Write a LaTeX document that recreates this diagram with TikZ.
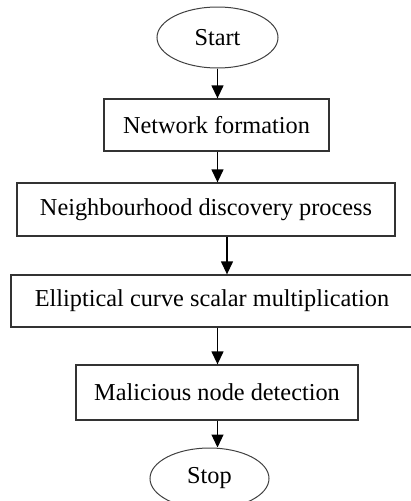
\documentclass[tikz,border=0pt]{standalone}
\usepackage{fontspec}
\setmainfont{Liberation Serif}
\usetikzlibrary{shapes.geometric,arrows.meta}

\tikzset{
  terminal/.style={ellipse, draw=black!75, line width=1pt, inner sep=0pt,
    font=\fontsize{24.3}{28}\selectfont},
  stepbox/.style={rectangle, draw=black!80, line width=1.3pt, inner sep=0pt,
    font=\fontsize{24.3}{28}\selectfont},
  flow/.style={line width=1.3pt, -{Triangle[width=12pt,length=13pt]}},
}

\begin{document}
\begin{tikzpicture}[x=1pt, y=-1pt]
  \useasboundingbox (0,0) rectangle (411,501);
  \clip (0,0) rectangle (411,501);

  % terminals
  \node[terminal, minimum width=121pt, minimum height=61pt] (start) at (217.5,37.5) {Start};
  \node[terminal, minimum width=119pt, minimum height=61pt] (stop) at (209.5,478.5) {Stop};

  % process steps
  \node[stepbox, minimum width=225pt, minimum height=52pt] (net) at (216.5,125) {Network formation};
  \node[stepbox, minimum width=378pt, minimum height=53pt] (nbr) at (206,209.5) {Neighbourhood discovery process};
  \node[stepbox, minimum width=402pt, minimum height=52pt] (ecc) at (212,301) {Elliptical curve scalar multiplication};
  \node[stepbox, minimum width=282pt, minimum height=55pt] (mal) at (217,392.5) {Malicious node detection};

  % connectors
  \draw[flow] (start.south) -- (start.south |- net.north);
  \draw[flow] (net.south -| start.south) -- (nbr.north -| start.south);
  \draw[flow] ([xshift=21pt]nbr.south) -- ([xshift=21pt]nbr.south |- ecc.north);
  \draw[flow] (ecc.south -| start.south) -- (mal.north -| start.south);
  \draw[flow] (mal.south -| start.south) -- (stop.north -| start.south);
\end{tikzpicture}
\end{document}
